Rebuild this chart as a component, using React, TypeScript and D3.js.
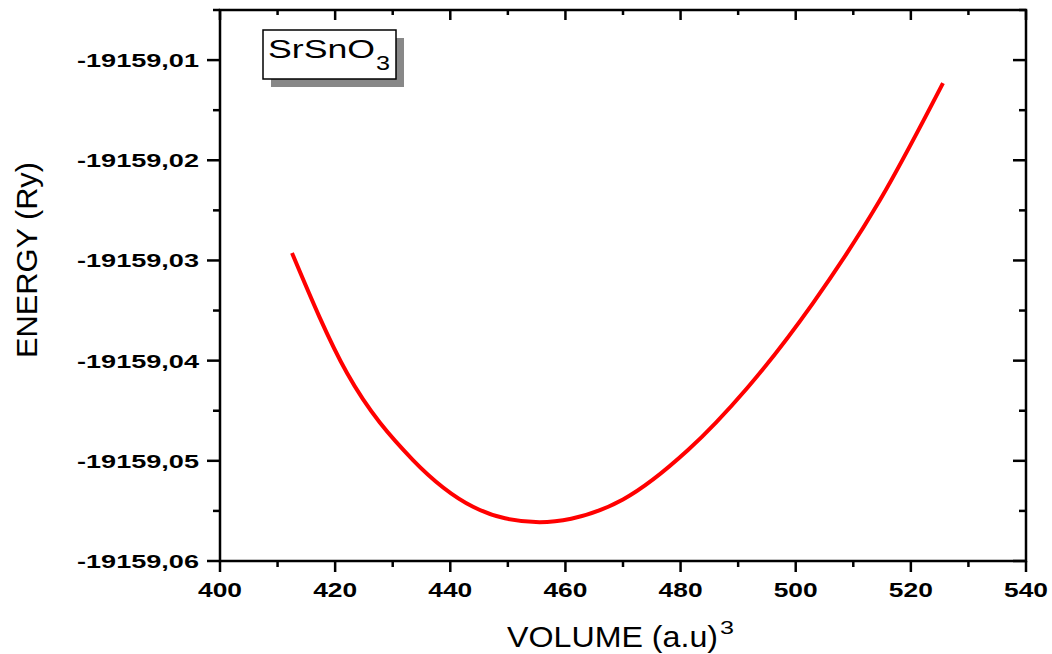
import React from "react";
import * as d3 from "d3";

const volume = [412.51, 422.06, 433.52, 443.95, 449.5, 455.5, 461.0, 470.0, 481.29, 491.54, 503.0, 514.64, 525.58];
const energy = [-19159.02926, -19159.04124, -19159.04992, -19159.05458, -19159.05574, -19159.05612, -19159.05578, -19159.05385, -19159.04892, -19159.04275, -19159.03425, -19159.02397, -19159.0123];

const xMajor = [400, 420, 440, 460, 480, 500, 520, 540];
const xMinor = [410, 430, 450, 470, 490, 510, 530];
const yMajor = [-19159.06, -19159.05, -19159.04, -19159.03, -19159.02, -19159.01];
const yMajorLabels = ["-19159,06", "-19159,05", "-19159,04", "-19159,03", "-19159,02", "-19159,01"];
const yMinor = [-19159.055, -19159.045, -19159.035, -19159.025, -19159.015, -19159.005];

const L = 220, R = 1026, T = 10, B = 561;

export default function App() {
  const x = d3.scaleLinear().domain([400, 540]).range([L, R]);
  const y = d3.scaleLinear().domain([-19159.06, -19159.005]).range([B, T]);
  const pts = volume.map((v, i) => [v, energy[i]] as [number, number]);
  const line = d3.line<[number, number]>().x(d => x(d[0])).y(d => y(d[1])).curve(d3.curveMonotoneX);
  const font = "'Liberation Sans', Arial, sans-serif";
  const sw = 2.5;
  return (
    <svg width={1052} height={654} style={{ position: "absolute", left: 0, top: 0, background: "#fff" }} fontFamily={font}>
      <rect x={0} y={0} width={1052} height={654} fill="#fff" />
      {xMajor.map(v => (
        <g key={"xm" + v}>
          <line x1={x(v)} x2={x(v)} y1={B} y2={B + 11} stroke="#000" strokeWidth={sw} />
          <line x1={x(v)} x2={x(v)} y1={T} y2={T + 10} stroke="#000" strokeWidth={sw} />
          <text x={x(v)} y={597} textAnchor="middle" fontSize={21} fontWeight="bold" textLength={44} lengthAdjust="spacingAndGlyphs">{v}</text>
        </g>
      ))}
      {xMinor.map(v => (
        <g key={"xn" + v}>
          <line x1={x(v)} x2={x(v)} y1={B} y2={B + 6} stroke="#000" strokeWidth={sw} />
          <line x1={x(v)} x2={x(v)} y1={T} y2={T + 5} stroke="#000" strokeWidth={sw} />
        </g>
      ))}
      {yMajor.map((v, i) => (
        <g key={"ym" + i}>
          <line x1={L - 13} x2={L} y1={y(v)} y2={y(v)} stroke="#000" strokeWidth={sw} />
          <line x1={R - 13} x2={R} y1={y(v)} y2={y(v)} stroke="#000" strokeWidth={sw} />
          <text x={199} y={y(v) + 7} textAnchor="end" fontSize={19} fontWeight="bold" textLength={122} lengthAdjust="spacingAndGlyphs">{yMajorLabels[i]}</text>
        </g>
      ))}
      {yMinor.map((v, i) => (
        <g key={"yn" + i}>
          <line x1={L - 7} x2={L} y1={y(v)} y2={y(v)} stroke="#000" strokeWidth={sw} />
          <line x1={R - 7} x2={R} y1={y(v)} y2={y(v)} stroke="#000" strokeWidth={sw} />
        </g>
      ))}
      <rect x={L} y={T} width={R - L} height={B - T} fill="none" stroke="#000" strokeWidth={sw} />
      <path d={line(pts) || ""} fill="none" stroke="#ff0000" strokeWidth={4} />
      <rect x={271} y={38} width={133} height={49} fill="#888" />
      <rect x={263} y={30} width={133} height={49} fill="#fff" stroke="#000" strokeWidth={1.5} />
      <text x={268} y={58} fontSize={25} textLength={107} lengthAdjust="spacingAndGlyphs">SrSnO</text>
      <text x={376} y={70} fontSize={20} textLength={14} lengthAdjust="spacingAndGlyphs">3</text>
      <text x={507} y={647} fontSize={30} textLength={211} lengthAdjust="spacingAndGlyphs">VOLUME (a.u)</text>
      <text x={720} y={634} fontSize={19} textLength={14} lengthAdjust="spacingAndGlyphs">3</text>
      <text transform="translate(37,260) rotate(-90)" textAnchor="middle" fontSize={30} textLength={196} lengthAdjust="spacingAndGlyphs">ENERGY (Ry)</text>
    </svg>
  );
}
